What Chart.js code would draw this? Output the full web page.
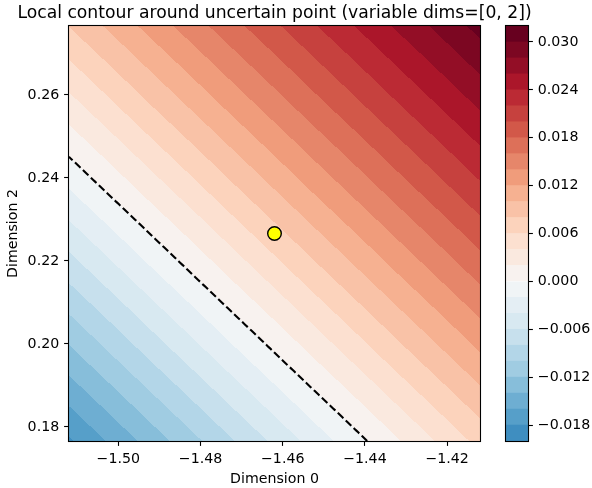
<!DOCTYPE html>
<html>
<head>
<meta charset="utf-8">
<script src="https://cdn.jsdelivr.net/npm/chart.js@4/dist/chart.umd.min.js"></script>
<style>
  html, body { margin: 0; padding: 0; background: #ffffff; }
  #wrap { position: relative; width: 592px; height: 488px; }
  #wrap canvas { position: absolute; left: 0; top: 0; }
</style>
</head>
<body>
<div id="wrap">
  <canvas id="main" width="592" height="488"></canvas>
  <canvas id="cbar" width="592" height="488"></canvas>
</div>
<script>
// ---- data -------------------------------------------------------------
// axis limits of the local window
const X_MIN = -1.512, X_MAX = -1.412;
const Y_MIN = 0.1766, Y_MAX = 0.2766;

// sample grid of the model output (rows run from bottom to top)
const gridX = [-1.512, -1.492, -1.472, -1.452, -1.432, -1.412];
const gridY = [0.1766, 0.1966, 0.2166, 0.2366, 0.2566, 0.2766];
const zRow0 = [-0.01830, -0.01314, -0.00807, -0.00308, 0.00183, 0.00664];
const zRow1 = [-0.01284, -0.00776, -0.00278, 0.00212, 0.00693, 0.01165];
const zRow2 = [-0.00747, -0.00249, 0.00241, 0.00721, 0.01193, 0.01656];
const zRow3 = [-0.00219, 0.00269, 0.00749, 0.01221, 0.01683, 0.02137];
const zRow4 = [0.00298, 0.00778, 0.01248, 0.01711, 0.02164, 0.02609];
const zRow5 = [0.00806, 0.01276, 0.01738, 0.02191, 0.02635, 0.03070];
const gridZ = [zRow0, zRow1, zRow2, zRow3, zRow4, zRow5];

// filled contour levels
const levels = [-0.020, -0.018, -0.016, -0.014, -0.012, -0.010, -0.008, -0.006, -0.004,
                -0.002, 0.000, 0.002, 0.004, 0.006, 0.008, 0.010, 0.012, 0.014, 0.016,
                0.018, 0.020, 0.022, 0.024, 0.026, 0.028, 0.030, 0.032];

// the uncertain point
const pointX = [-1.462];
const pointY = [0.2266];

// tick values
const xTickValues = [-1.50, -1.48, -1.46, -1.44, -1.42];
const yTickValues = [0.18, 0.20, 0.22, 0.24, 0.26];
const cbTickValues = [-0.018, -0.012, -0.006, 0.000, 0.006, 0.012, 0.018, 0.024, 0.030];

// ---- helpers ----------------------------------------------------------
const FONT = 'DejaVu Sans';
const TICK_PX = 14.2;
const TITLE_PX = 17.2;
const TICK_LEN = 4.9;

Chart.defaults.font.family = FONT;
Chart.defaults.font.size = TICK_PX;
Chart.defaults.color = '#000000';

function fmt(v, digits) {
  const s = Math.abs(v) < 1e-12 ? (0).toFixed(digits) : v.toFixed(digits);
  return s.replace('-', '\u2212');
}

function locate(arr, v) {
  let i = 0;
  while (i < arr.length - 2 && v > arr[i + 1]) i++;
  return i;
}

// bilinear lookup inside the sample grid
function fieldAt(x, y) {
  const i = locate(gridX, x), j = locate(gridY, y);
  const tx = (x - gridX[i]) / (gridX[i + 1] - gridX[i]);
  const ty = (y - gridY[j]) / (gridY[j + 1] - gridY[j]);
  const z00 = gridZ[j][i], z10 = gridZ[j][i + 1];
  const z01 = gridZ[j + 1][i], z11 = gridZ[j + 1][i + 1];
  return (z00 * (1 - tx) + z10 * tx) * (1 - ty) + (z01 * (1 - tx) + z11 * tx) * ty;
}

// RdBu anchors (red end first); reversed lookup gives RdBu_r
const RDBU = [[103, 0, 31], [178, 24, 43], [214, 96, 77], [244, 165, 130], [253, 219, 199],
              [247, 247, 247], [209, 229, 240], [146, 197, 222], [67, 147, 195], [33, 102, 172],
              [5, 48, 97]];
function rdbuR(t) {
  t = Math.max(0, Math.min(1, t));
  const idx = Math.min(255, Math.floor(t * 256));
  const s = (1 - idx / 255) * 10;
  const i = Math.min(9, Math.floor(s));
  const f = s - i;
  return RDBU[i].map((c, k) => Math.round(c * (1 - f) + RDBU[i + 1][k] * f));
}

// symmetric colour scale around zero
const vLim = Math.max(...gridZ.flat().map(Math.abs));
const bandRGB = levels.slice(0, -1).map((lo, k) => {
  const mid = (lo + levels[k + 1]) / 2;
  return rdbuR((mid + vLim) / (2 * vLim));
});
const bandCSS = bandRGB.map(c => `rgb(${c[0]},${c[1]},${c[2]})`);

function bandIndex(z) {
  for (let k = 0; k < levels.length - 1; k++) {
    if (z < levels[k + 1]) return k;
  }
  return levels.length - 2;
}

// zero level of the field, traced across the window
function zeroContour() {
  const pts = [];
  const N = 240;
  for (let k = 0; k <= N; k++) {
    const y = Y_MIN + (Y_MAX - Y_MIN) * k / N;
    let lo = X_MIN, hi = X_MAX;
    if (fieldAt(lo, y) > 0 || fieldAt(hi, y) < 0) continue;
    for (let it = 0; it < 50; it++) {
      const m = (lo + hi) / 2;
      if (fieldAt(m, y) < 0) lo = m; else hi = m;
    }
    pts.push({ x: (lo + hi) / 2, y });
  }
  // exit through the left edge
  if (fieldAt(X_MIN, Y_MIN) < 0 && fieldAt(X_MIN, Y_MAX) > 0) {
    let lo = Y_MIN, hi = Y_MAX;
    for (let it = 0; it < 50; it++) {
      const m = (lo + hi) / 2;
      if (fieldAt(X_MIN, m) < 0) lo = m; else hi = m;
    }
    pts.push({ x: X_MIN, y: (lo + hi) / 2 });
  }
  pts.sort((a, b) => a.y - b.y);
  return pts;
}

// ---- plugins ----------------------------------------------------------
const contourFill = {
  id: 'contourFill',
  beforeDatasetsDraw(chart) {
    const { ctx, chartArea: a, scales } = chart;
    const sx = scales.x, sy = scales.y;
    const w = Math.round(a.right - a.left), h = Math.round(a.bottom - a.top);
    const off = document.createElement('canvas');
    off.width = w; off.height = h;
    const octx = off.getContext('2d');
    const img = octx.createImageData(w, h);
    const d = img.data;
    for (let j = 0; j < h; j++) {
      const y = sy.getValueForPixel(a.top + j + 0.5);
      for (let i = 0; i < w; i++) {
        const x = sx.getValueForPixel(a.left + i + 0.5);
        const c = bandRGB[bandIndex(fieldAt(x, y))];
        const p = (j * w + i) * 4;
        d[p] = c[0]; d[p + 1] = c[1]; d[p + 2] = c[2]; d[p + 3] = 255;
      }
    }
    octx.putImageData(img, 0, 0);
    ctx.drawImage(off, a.left, a.top);
  },
  afterDatasetsDraw(chart) {
    const { ctx, chartArea: a } = chart;
    ctx.save();
    ctx.strokeStyle = '#000000';
    ctx.lineWidth = 1.1;
    ctx.strokeRect(a.left - 0.5, a.top - 0.5, a.right - a.left + 1, a.bottom - a.top + 1);
    ctx.restore();
  }
};

const plotTitle = {
  id: 'plotTitle',
  afterDraw(chart) {
    const { ctx, chartArea: a } = chart;
    ctx.save();
    ctx.font = `${TITLE_PX}px "${FONT}"`;
    ctx.fillStyle = '#000000';
    ctx.textAlign = 'center';
    ctx.textBaseline = 'alphabetic';
    ctx.fillText('Local contour around uncertain point (variable dims=[0, 2])', (a.left + a.right) / 2, a.top - 8.3);
    ctx.restore();
  }
};

const cbarFrame = {
  id: 'cbarFrame',
  afterDatasetsDraw(chart) {
    const { ctx, chartArea: a } = chart;
    ctx.save();
    ctx.strokeStyle = '#000000';
    ctx.lineWidth = 1.1;
    ctx.strokeRect(a.left - 0.5, a.top - 0.5, a.right - a.left + 1, a.bottom - a.top + 1);
    ctx.restore();
  }
};

const tickGrid = {
  drawOnChartArea: false,
  drawTicks: true,
  tickLength: TICK_LEN,
  tickColor: '#000000',
  tickWidth: 1.1
};

// ---- main contour chart -------------------------------------------------
new Chart(document.getElementById('main'), {
  type: 'scatter',
  data: {
    datasets: [
      {
        label: 'point',
        order: 0,
        data: pointX.map((x, i) => ({ x, y: pointY[i] })),
        pointRadius: 6.8,
        pointBorderWidth: 1.4,
        pointBackgroundColor: '#ffff00',
        pointBorderColor: '#000000',
        clip: false
      },
      {
        label: 'zero level',
        type: 'line',
        order: 1,
        data: zeroContour(),
        borderColor: '#000000',
        borderWidth: 2.1,
        borderDash: [7.7, 3.3],
        pointRadius: 0,
        tension: 0,
        fill: false
      }
    ]
  },
  options: {
    responsive: false,
    animation: false,
    events: [],
    layout: { padding: { left: 0, top: 26, right: 112, bottom: 0 } },
    plugins: { legend: { display: false }, tooltip: { enabled: false }, title: { display: false } },
    scales: {
      x: {
        type: 'linear',
        min: X_MIN, max: X_MAX,
        afterBuildTicks: s => { s.ticks = xTickValues.map(v => ({ value: v })); },
        afterFit: s => { s.height = 47; },
        ticks: { callback: v => fmt(v, 2), padding: 4.9, maxRotation: 0, autoSkip: false },
        grid: tickGrid,
        border: { display: false },
        title: { display: true, text: 'Dimension 0', font: { size: TICK_PX }, padding: { top: 0, bottom: 0 } }
      },
      y: {
        type: 'linear',
        min: Y_MIN, max: Y_MAX,
        afterBuildTicks: s => { s.ticks = yTickValues.map(v => ({ value: v })); },
        afterFit: s => { s.width = 69; },
        ticks: { callback: v => fmt(v, 2), padding: 4.9, autoSkip: false },
        grid: tickGrid,
        border: { display: false },
        title: { display: true, text: 'Dimension 2', font: { size: TICK_PX }, padding: { top: 5, bottom: 0 } }
      }
    }
  },
  plugins: [contourFill, plotTitle]
});

// ---- colour bar ---------------------------------------------------------
new Chart(document.getElementById('cbar'), {
  type: 'bar',
  data: {
    labels: [''],
    datasets: bandCSS.map((col, k) => ({
      data: [[levels[k], levels[k + 1]]],
      backgroundColor: col,
      borderWidth: 0,
      barPercentage: 1,
      categoryPercentage: 1,
      grouped: false
    }))
  },
  options: {
    responsive: false,
    animation: false,
    events: [],
    layout: { padding: { left: 506, top: 26, right: 0, bottom: 47 } },
    plugins: { legend: { display: false }, tooltip: { enabled: false } },
    scales: {
      x: { display: false },
      y: {
        position: 'right',
        min: levels[0], max: levels[levels.length - 1],
        afterBuildTicks: s => { s.ticks = cbTickValues.map(v => ({ value: v })); },
        afterFit: s => { s.width = 64; },
        ticks: { callback: v => fmt(v, 3), padding: 4.9, autoSkip: false },
        grid: tickGrid,
        border: { display: false }
      }
    }
  },
  plugins: [cbarFrame]
});
</script>
</body>
</html>
